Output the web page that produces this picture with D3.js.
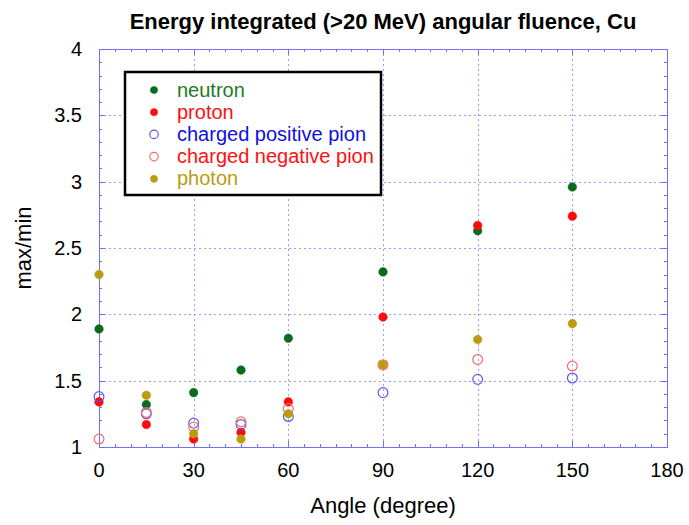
<!DOCTYPE html>
<html>
<head>
<meta charset="utf-8">
<script src="https://cdn.jsdelivr.net/npm/d3@7"></script>
<style>
  body { margin: 0; background: #fff; }
  svg text { font-family: "Liberation Sans", Arial, sans-serif; }
</style>
</head>
<body>
<script>
// chart values
let angles = [0, 15, 30, 45, 60, 90, 120, 150];
let neutron = [1.89, 1.32, 1.41, 1.58, 1.82, 2.32, 2.63, 2.96];
let proton = [1.34, 1.17, 1.06, 1.11, 1.34, 1.98, 2.67, 2.74];
let posPion = [1.38, 1.25, 1.18, 1.17, 1.23, 1.41, 1.51, 1.52];
let negPion = [1.06, 1.26, 1.15, 1.19, 1.29, 1.62, 1.66, 1.61];
let photon = [2.30, 1.39, 1.10, 1.06, 1.25, 1.62, 1.81, 1.93];
let xTicks = [0, 30, 60, 90, 120, 150, 180];
let yTicks = [1, 1.5, 2, 2.5, 3, 3.5, 4];

// series styles
let series = [
  { name: 'neutron', values: neutron, color: '#0b6a1c', text: '#1e7a22', open: false },
  { name: 'proton', values: proton, color: '#ff0a0a', text: '#ff1010', open: false },
  { name: 'charged positive pion', values: posPion, color: '#5a5aee', text: '#1010dd', open: true },
  { name: 'charged negative pion', values: negPion, color: '#ff6a6a', text: '#ff1010', open: true },
  { name: 'photon', values: photon, color: '#bb9c10', text: '#bb9c10', open: false }
];

let width = 689;
let height = 525;
let plotLeft = 99, plotRight = 667, plotTop = 49, plotBottom = 447;

let svg = d3.select('body').append('svg')
  .attr('width', width)
  .attr('height', height);

let xScale = d3.scaleLinear().domain([0, 180]).range([plotLeft, plotRight]);
let yScale = d3.scaleLinear().domain([1, 4]).range([plotBottom, plotTop]);

// dotted grid
svg.append('g').selectAll('line')
  .data(xTicks.slice(1, -1))
  .enter().append('line')
  .attr('x1', d => Math.round(xScale(d)) + 0.5).attr('x2', d => Math.round(xScale(d)) + 0.5)
  .attr('y1', plotTop).attr('y2', plotBottom)
  .attr('stroke', '#9a9aff').attr('stroke-width', 1).attr('stroke-dasharray', '2,3');
svg.append('g').selectAll('line')
  .data(yTicks.slice(1, -1))
  .enter().append('line')
  .attr('x1', plotLeft).attr('x2', plotRight)
  .attr('y1', d => Math.round(yScale(d)) + 0.5).attr('y2', d => Math.round(yScale(d)) + 0.5)
  .attr('stroke', '#9a9aff').attr('stroke-width', 1).attr('stroke-dasharray', '2,3');

// inward ticks on every side
let tickColor = '#7272f0';
let xMinor = d3.range(0, 181, 5);
let yMinor = d3.range(1, 4.001, 0.1);
let ticks = svg.append('g').attr('stroke', tickColor).attr('stroke-width', 1);
xMinor.forEach(v => {
  let len = v % 30 === 0 ? 6 : 3;
  let x = Math.round(xScale(v)) + 0.5;
  ticks.append('line').attr('x1', x).attr('x2', x).attr('y1', plotBottom).attr('y2', plotBottom - len);
  ticks.append('line').attr('x1', x).attr('x2', x).attr('y1', plotTop).attr('y2', plotTop + len);
});
yMinor.forEach(v => {
  let major = Math.abs(v * 2 - Math.round(v * 2)) < 1e-6;
  let len = major ? 6 : 3;
  let y = Math.round(yScale(v)) + 0.5;
  ticks.append('line').attr('x1', plotLeft).attr('x2', plotLeft + len).attr('y1', y).attr('y2', y);
  ticks.append('line').attr('x1', plotRight).attr('x2', plotRight - len).attr('y1', y).attr('y2', y);
});

// frame
svg.append('rect')
  .attr('x', plotLeft + 0.5).attr('y', plotTop + 0.5)
  .attr('width', plotRight - plotLeft).attr('height', plotBottom - plotTop)
  .attr('fill', 'none').attr('stroke', tickColor).attr('stroke-width', 1);

// tick labels
svg.append('g').selectAll('text')
  .data(xTicks)
  .enter().append('text')
  .attr('x', d => xScale(d)).attr('y', plotBottom + 30)
  .attr('text-anchor', 'middle')
  .attr('font-size', 20)
  .text(d => d);
svg.append('g').selectAll('text')
  .data(yTicks)
  .enter().append('text')
  .attr('x', 82).attr('y', d => yScale(d) + 7)
  .attr('text-anchor', 'end')
  .attr('font-size', 20)
  .text(d => d);

// axis captions
svg.append('text')
  .attr('x', (plotLeft + plotRight) / 2).attr('y', 513)
  .attr('text-anchor', 'middle').attr('font-size', 22)
  .text('Angle (degree)');
svg.append('text')
  .attr('transform', 'translate(31,' + ((plotTop + plotBottom) / 2) + ') rotate(-90)')
  .attr('text-anchor', 'middle').attr('font-size', 22)
  .text('max/min');

// title
svg.append('text')
  .attr('x', 383).attr('y', 29)
  .attr('text-anchor', 'middle')
  .attr('font-size', 22).attr('font-weight', 'bold')
  .text('Energy integrated (>20 MeV) angular fluence, Cu');

// points
let drawMarker = (g, s, cx, cy, r) => {
  g.append('circle')
    .attr('cx', cx).attr('cy', cy)
    .attr('r', s.open ? r + 0.6 : r)
    .attr('fill', s.open ? 'none' : s.color)
    .attr('stroke', s.color)
    .attr('stroke-width', s.open ? 1.2 : 0.5);
};

series.forEach(s => {
  let g = svg.append('g');
  s.values.forEach((v, i) => drawMarker(g, s, xScale(angles[i]), yScale(v), 4.3));
});

// legend
svg.append('rect')
  .attr('x', 125).attr('y', 72)
  .attr('width', 256).attr('height', 123)
  .attr('fill', '#fff').attr('stroke', '#000').attr('stroke-width', 2.5);
series.forEach((s, i) => {
  let y = 90 + i * 22.2;
  let g = svg.append('g');
  drawMarker(g, s, 154, y, 3.6);
  g.append('text')
    .attr('x', 177).attr('y', y + 6.5)
    .attr('font-size', 20)
    .attr('fill', s.text)
    .text(s.name);
});
</script>
</body>
</html>
